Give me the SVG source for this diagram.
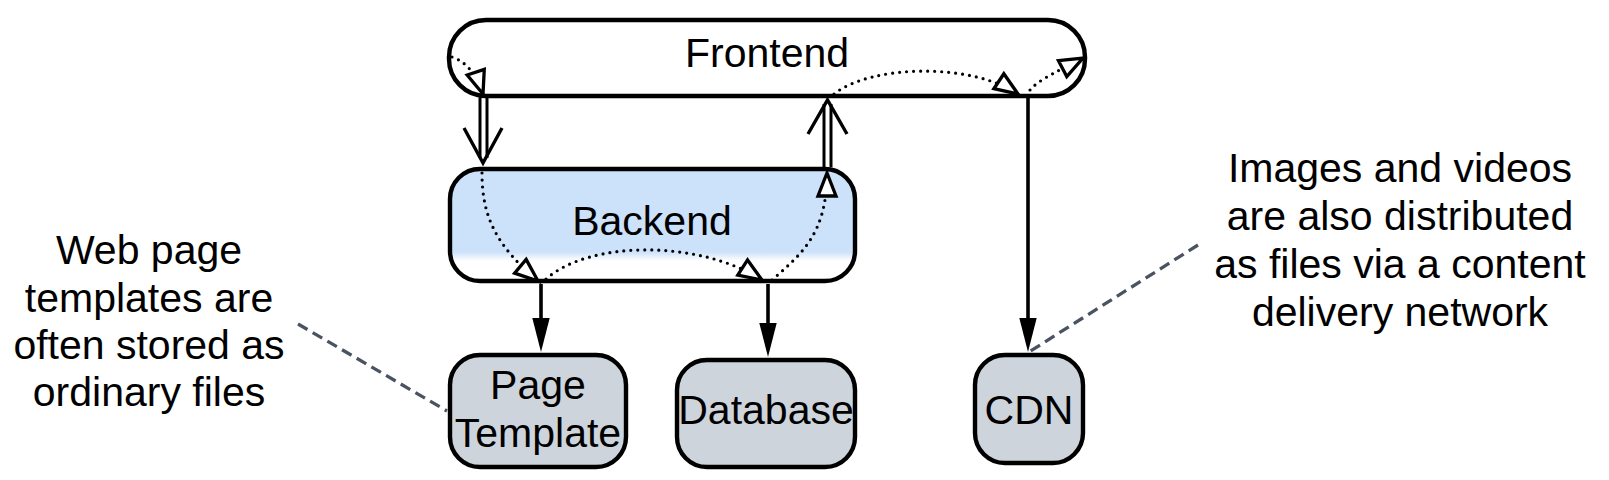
<svg xmlns="http://www.w3.org/2000/svg" width="1609" height="480" viewBox="0 0 1609 480">
<style>
.node{stroke:#000;stroke-width:4.4}
.lbl{font-family:"Liberation Sans",Arial,Helvetica,sans-serif;font-size:41px;fill:#000;text-anchor:middle}
.dot{fill:none;stroke:#000;stroke-width:3.2;stroke-dasharray:0 7;stroke-linecap:round;marker-end:url(#hollow)}
.solid{stroke:#000;stroke-width:3.6;fill:none;marker-end:url(#filled)}
.dbl{stroke:#000;stroke-width:3;fill:none}
.open{fill:none;stroke:#000;stroke-width:3.4;stroke-linejoin:miter}
.note{stroke:#4a5361;stroke-width:3.3;stroke-dasharray:11 6;fill:none}
</style>
<defs>
<linearGradient id="bgBack" x1="0" y1="0" x2="0" y2="1">
<stop offset="0" stop-color="#cce1fa"/>
<stop offset="0.74" stop-color="#cce1fa"/>
<stop offset="0.82" stop-color="#ffffff"/>
<stop offset="1" stop-color="#ffffff"/>
</linearGradient>
<marker id="hollow" markerUnits="userSpaceOnUse" viewBox="-3 -13 30 26" markerWidth="30" markerHeight="26" refX="23" refY="0" orient="auto" overflow="visible">
<path d="M0,-9 L23,0 L0,9 Z" fill="#fff" stroke="#000" stroke-width="3.3" stroke-dasharray="none"/>
</marker>
<marker id="filled" markerUnits="userSpaceOnUse" viewBox="0 -10 36 20" markerWidth="36" markerHeight="20" refX="4" refY="0" orient="auto" overflow="visible">
<path d="M0,-8.7 L34,0 L0,8.7 Z" fill="#000" stroke="none"/>
</marker>
</defs>
<g id="frontend">
<rect class="node" x="449" y="20" width="636" height="76" rx="37" fill="#fff"/>
<text class="lbl" x="767" y="67">Frontend</text>
</g>
<g id="backend">
<rect class="node" x="450" y="169" width="405" height="112" rx="30" fill="url(#bgBack)"/>
<text class="lbl" x="652" y="235">Backend</text>
</g>
<g id="page-template">
<rect class="node" x="450" y="355" width="176" height="112" rx="30" fill="#ced4dc"/>
<text class="lbl" x="538" y="399">Page</text>
<text class="lbl" x="538" y="447">Template</text>
</g>
<g id="database">
<rect class="node" x="677" y="360" width="178" height="107" rx="30" fill="#ced4dc"/>
<text class="lbl" x="766" y="424">Database</text>
</g>
<g id="cdn">
<rect class="node" x="975" y="355" width="108" height="108" rx="30" fill="#ced4dc"/>
<text class="lbl" x="1029" y="424">CDN</text>
</g>
<g id="note-templates">
<text class="lbl" x="149" y="264">Web page</text>
<text class="lbl" x="149" y="312">templates are</text>
<text class="lbl" x="149" y="359">often stored as</text>
<text class="lbl" x="149" y="406">ordinary files</text>
</g>
<g id="note-cdn">
<text class="lbl" x="1400" y="182">Images and videos</text>
<text class="lbl" x="1400" y="230">are also distributed</text>
<text class="lbl" x="1400" y="278">as files via a content</text>
<text class="lbl" x="1400" y="326">delivery network</text>
</g>
<g id="connectors">
<line class="dbl" x1="480" y1="98" x2="480" y2="158"/>
<line class="dbl" x1="487" y1="98" x2="487" y2="158"/>
<path class="open" d="M464,128 L483,163 L502,128"/>
<line class="dbl" x1="824" y1="104" x2="824" y2="167"/>
<line class="dbl" x1="831" y1="104" x2="831" y2="167"/>
<path class="open" d="M808,134 L827.5,100 L847,134"/>
<line class="solid" x1="541" y1="284" x2="541" y2="322"/>
<line class="solid" x1="768" y1="284" x2="768" y2="327"/>
<line class="solid" x1="1028" y1="98" x2="1028" y2="322"/>
<path class="dot" d="M452,57 Q473,64 483,94"/>
<path class="dot" d="M482,173 C482,215 495,245 538,281"/>
<path class="dot" d="M546,279 C590,240 700,240 762,280"/>
<path class="dot" d="M772,280 C800,255 827,235 827,173"/>
<path class="dot" d="M834,94 C870,65 970,62 1018,94"/>
<path class="dot" d="M1030,90 C1038,80 1060,70 1083,58"/>
<line class="note" x1="298" y1="324" x2="447" y2="411"/>
<line class="note" x1="1198" y1="245" x2="1029" y2="352"/>
</g>
</svg>
